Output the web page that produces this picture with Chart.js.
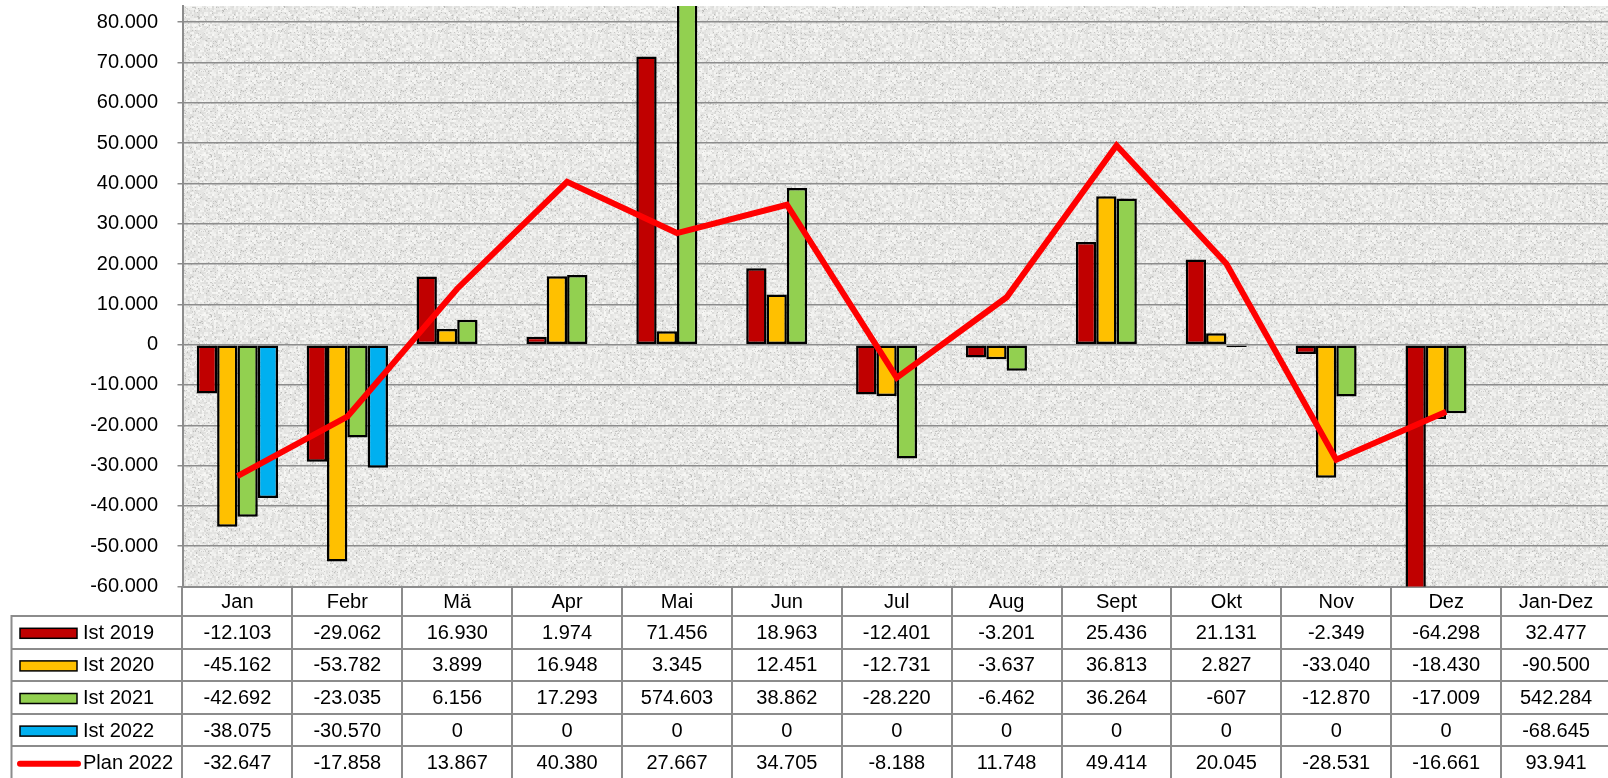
<!DOCTYPE html>
<html><head><meta charset="utf-8">
<script src="https://cdn.jsdelivr.net/npm/chart.js@4.4.1/dist/chart.umd.min.js"></script>
<style>
html,body{margin:0;padding:0;background:#fff;overflow:hidden}
#wrap{position:relative;width:1608px;height:778px;overflow:hidden;background:#fff}
canvas{display:block}
</style></head>
<body>
<div id="wrap"><canvas id="c" width="1611" height="778" style="width:1611px;height:778px"></canvas></div>
<script>
// ---- data ----
const categories = ['Jan','Febr','Mä','Apr','Mai','Jun','Jul','Aug','Sept','Okt','Nov','Dez','Jan-Dez'];
const ist2019  = [-12103, -29062, 16930, 1974, 71456, 18963, -12401, -3201, 25436, 21131, -2349, -64298, 32477];
const ist2020  = [-45162, -53782, 3899, 16948, 3345, 12451, -12731, -3637, 36813, 2827, -33040, -18430, -90500];
const ist2021  = [-42692, -23035, 6156, 17293, 574603, 38862, -28220, -6462, 36264, -607, -12870, -17009, 542284];
const ist2022  = [-38075, -30570, 0, 0, 0, 0, 0, 0, 0, 0, 0, 0, -68645];
const plan2022 = [-32647, -17858, 13867, 40380, 27667, 34705, -8188, 11748, 49414, 20045, -28531, -16661, 93941];
const seriesLabels = ['Ist 2019','Ist 2020','Ist 2021','Ist 2022','Plan 2022'];
const yTickValues = [-60000, -50000, -40000, -30000, -20000, -10000, 0, 10000, 20000, 30000, 40000, 50000, 60000, 70000, 80000];
const monthCount = 12;           // Jan..Dez are plotted, Jan-Dez only in the table
const yMin = -60000, yMax = 84000;

// ---- styles ----
const barColors = ['#C00000','#FFC000','#92D050','#00B0F0'];
const lineColor = '#FF0000';
const gridColor = '#8c8c8c';
const FONT = "'Liberation Sans', Arial, Helvetica, sans-serif";

function fmt(v){
  const s = Math.abs(Math.round(v)).toString().replace(/\B(?=(\d{3})+(?!\d))/g, '.');
  return (v < 0 ? '-' : '') + s;
}

function makeTexture(ctx){
  const n = 160;
  const c = document.createElement('canvas'); c.width = n; c.height = n;
  const g = c.getContext('2d');
  const img = g.createImageData(n, n);
  const fr = v => v - Math.floor(v);
  for (let y = 0; y < n; y++) for (let x = 0; x < n; x++){
    const bx = Math.floor(x/2), by = Math.floor(y/2);
    const h1 = fr(Math.sin(bx*12.9898 + by*78.233) * 43758.5453);
    const h2 = fr(Math.sin(x*39.3468 + y*11.135) * 24634.6345);
    let v = 250 - 28*h1 - 6*h2;
    if (h2 > 0.94) v -= 30;
    const i = (y*n + x)*4;
    img.data[i] = v; img.data[i+1] = v; img.data[i+2] = v - 2; img.data[i+3] = 255;
  }
  g.putImageData(img, 0, 0);
  return ctx.createPattern(c, 'repeat');
}

const bgPlugin = {
  id: 'bg',
  beforeDraw(chart){
    const {ctx, chartArea: a} = chart;
    if (!chart._tex) chart._tex = makeTexture(ctx);
    ctx.save();
    ctx.fillStyle = chart._tex;
    ctx.fillRect(a.left, a.top, a.right - a.left, a.bottom - a.top);
    ctx.restore();
  }
};

const rowsData = [ist2019, ist2020, ist2021, ist2022, plan2022];

const tablePlugin = {
  id: 'dataTable',
  afterDraw(chart){
    const ctx = chart.ctx, xs = chart.scales.x, a = chart.chartArea;
    const n = categories.length;
    const w = xs.getPixelForValue(1) - xs.getPixelForValue(0);
    const bounds = [];
    for (let i = 0; i < n; i++) bounds.push(xs.getPixelForValue(i) - w/2);
    bounds.push(xs.getPixelForValue(n-1) + w/2);
    const headerBottom = 616, rowH = 32.6, legendLeft = 11.5, bottom = 790;
    ctx.save();
    ctx.strokeStyle = gridColor; ctx.lineWidth = 2;
    ctx.beginPath();
    for (let i = 0; i < n; i++){
      ctx.moveTo(Math.round(bounds[i]), a.bottom);
      ctx.lineTo(Math.round(bounds[i]), bottom);
    }
    ctx.moveTo(legendLeft, headerBottom); ctx.lineTo(legendLeft, bottom);
    for (let r = 0; r < rowsData.length; r++){
      const y = Math.round(headerBottom + r*rowH);
      ctx.moveTo(legendLeft - 1, y); ctx.lineTo(bounds[n], y);
    }
    ctx.stroke();

    ctx.font = '20px ' + FONT;
    ctx.fillStyle = '#000';
    ctx.textBaseline = 'middle';
    rowsData.forEach((vals, r) => {
      const cy = headerBottom + r*rowH + rowH/2 + 1;
      ctx.textAlign = 'center';
      vals.forEach((v, i) => ctx.fillText(fmt(v), xs.getPixelForValue(i), cy));
      if (r < 4){
        ctx.fillStyle = barColors[r];
        ctx.fillRect(20, cy - 5, 57, 10);
        ctx.strokeStyle = '#000'; ctx.lineWidth = 1.5;
        ctx.strokeRect(20, cy - 5, 57, 10);
      } else {
        ctx.strokeStyle = lineColor; ctx.lineWidth = 6; ctx.lineCap = 'round';
        ctx.beginPath(); ctx.moveTo(20, cy); ctx.lineTo(78, cy); ctx.stroke();
        ctx.lineCap = 'butt';
      }
      ctx.fillStyle = '#000';
      ctx.textAlign = 'left';
      ctx.fillText(seriesLabels[r], 83, cy);
    });
    ctx.restore();
  }
};

Chart.defaults.font.family = FONT;
Chart.defaults.font.size = 20;
Chart.defaults.color = '#000';

const barDatasets = [ist2019, ist2020, ist2021, ist2022].map((vals, i) => ({
  type: 'bar',
  label: seriesLabels[i],
  data: vals.slice(0, monthCount),
  backgroundColor: barColors[i],
  borderColor: '#000',
  borderWidth: c => (c.raw === 0 ? 0 : 2.5),
  borderSkipped: false,
  categoryPercentage: 0.74,
  barPercentage: 1.0,
  order: 2
}));

const chart = new Chart(document.getElementById('c'), {
  data: {
    labels: categories,
    datasets: [
      ...barDatasets,
      {
        type: 'line',
        label: seriesLabels[4],
        data: plan2022.slice(0, monthCount),
        borderColor: lineColor,
        backgroundColor: lineColor,
        borderWidth: 6,
        pointRadius: 0,
        tension: 0,
        fill: false,
        order: 1
      }
    ]
  },
  options: {
    responsive: false,
    animation: false,
    devicePixelRatio: 1,
    layout: { padding: { top: 6, left: 0, right: 0, bottom: 0 } },
    plugins: { legend: { display: false }, tooltip: { enabled: false } },
    scales: {
      x: {
        type: 'category',
        offset: true,
        grid: { display: false, drawTicks: false, tickLength: 0 },
        border: { display: true, color: gridColor, width: 2 },
        ticks: { autoSkip: false, maxRotation: 0, minRotation: 0, padding: 3.5, color: '#000', font: { size: 20 } },
        afterFit(s){ s.height = 191.5; s.paddingLeft = 0; s.paddingRight = 0; }
      },
      y: {
        type: 'linear',
        min: yMin, max: yMax,
        ticks: {
          autoSkip: false,
          callback: v => fmt(v),
          padding: 19.5, color: '#000', font: { size: 20 }
        },
        grid: { color: gridColor, lineWidth: 1.5, tickLength: 5 },
        border: { display: true, color: gridColor, width: 2 },
        afterBuildTicks(s){ s.ticks = yTickValues.map(v => ({ value: v })); },
        afterFit(s){ s.width = 182.5; s.paddingTop = 0; s.paddingBottom = 0; }
      }
    }
  },
  plugins: [bgPlugin, tablePlugin]
});
</script>
</body></html>
